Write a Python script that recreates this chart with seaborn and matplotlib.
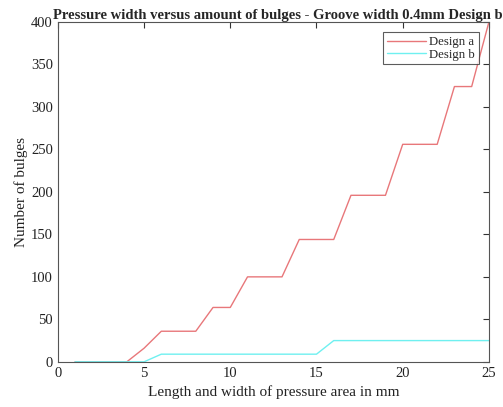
import matplotlib
matplotlib.use("Agg")
import matplotlib.pyplot as plt
import seaborn as sns
import pandas as pd

x_mm = list(range(1, 26))
design_a = [0, 0, 0, 0, 16, 36, 36, 36, 64, 64, 100, 100, 100, 144, 144, 144,
            196, 196, 196, 256, 256, 256, 324, 324, 400]
design_b = [0, 0, 0, 0, 0, 9, 9, 9, 9, 9, 9, 9, 9, 9, 9, 25,
            25, 25, 25, 25, 25, 25, 25, 25, 25]
series_names = ["Design a", "Design b"]
colors = ["#e8777a", "#6ff0f0"]

df = pd.DataFrame({
    "x": x_mm * 2,
    "y": design_a + design_b,
    "series": [series_names[0]] * len(x_mm) + [series_names[1]] * len(x_mm),
})

sns.set_style("white")
plt.rcParams["font.family"] = ["Liberation Serif", "DejaVu Serif"]

fig = plt.figure(figsize=(5.03, 4.07), dpi=100)
ax = fig.add_axes([0.115, 0.111, 0.857, 0.835])
sns.lineplot(data=df, x="x", y="y", hue="series", palette=colors, ax=ax,
             linewidth=1.0, legend=True)

ax.set_xlim(0, 25)
ax.set_ylim(0, 400)
ax.set_xticks([0, 5, 10, 15, 20, 25])
ax.set_yticks(range(0, 401, 50))
ax.tick_params(direction="in", top=True, right=True, length=4, width=0.8,
               colors="#333333", labelsize=10.5, labelcolor="#222222")
for s in ax.spines.values():
    s.set_color("#555555")
    s.set_linewidth(0.8)

ax.set_xlabel("Length and width of pressure area in mm", fontsize=11, color="#222222")
ax.set_ylabel("Number of bulges", fontsize=11, color="#222222", labelpad=2)
ax.set_title("Pressure width versus amount of bulges - Groove width 0.4mm Design b",
             fontsize=10.5, fontweight="bold", pad=2, x=0.51)

leg = ax.legend(loc="upper right", fontsize=9.2, frameon=True, fancybox=False,
                borderpad=0.3, handlelength=3.0, handletextpad=0.3,
                labelspacing=0.05, borderaxespad=0,
                bbox_to_anchor=(0.977, 0.97))
leg.get_frame().set_edgecolor("#333333")
leg.get_frame().set_linewidth(0.8)

fig.savefig("out.png", dpi=100)
